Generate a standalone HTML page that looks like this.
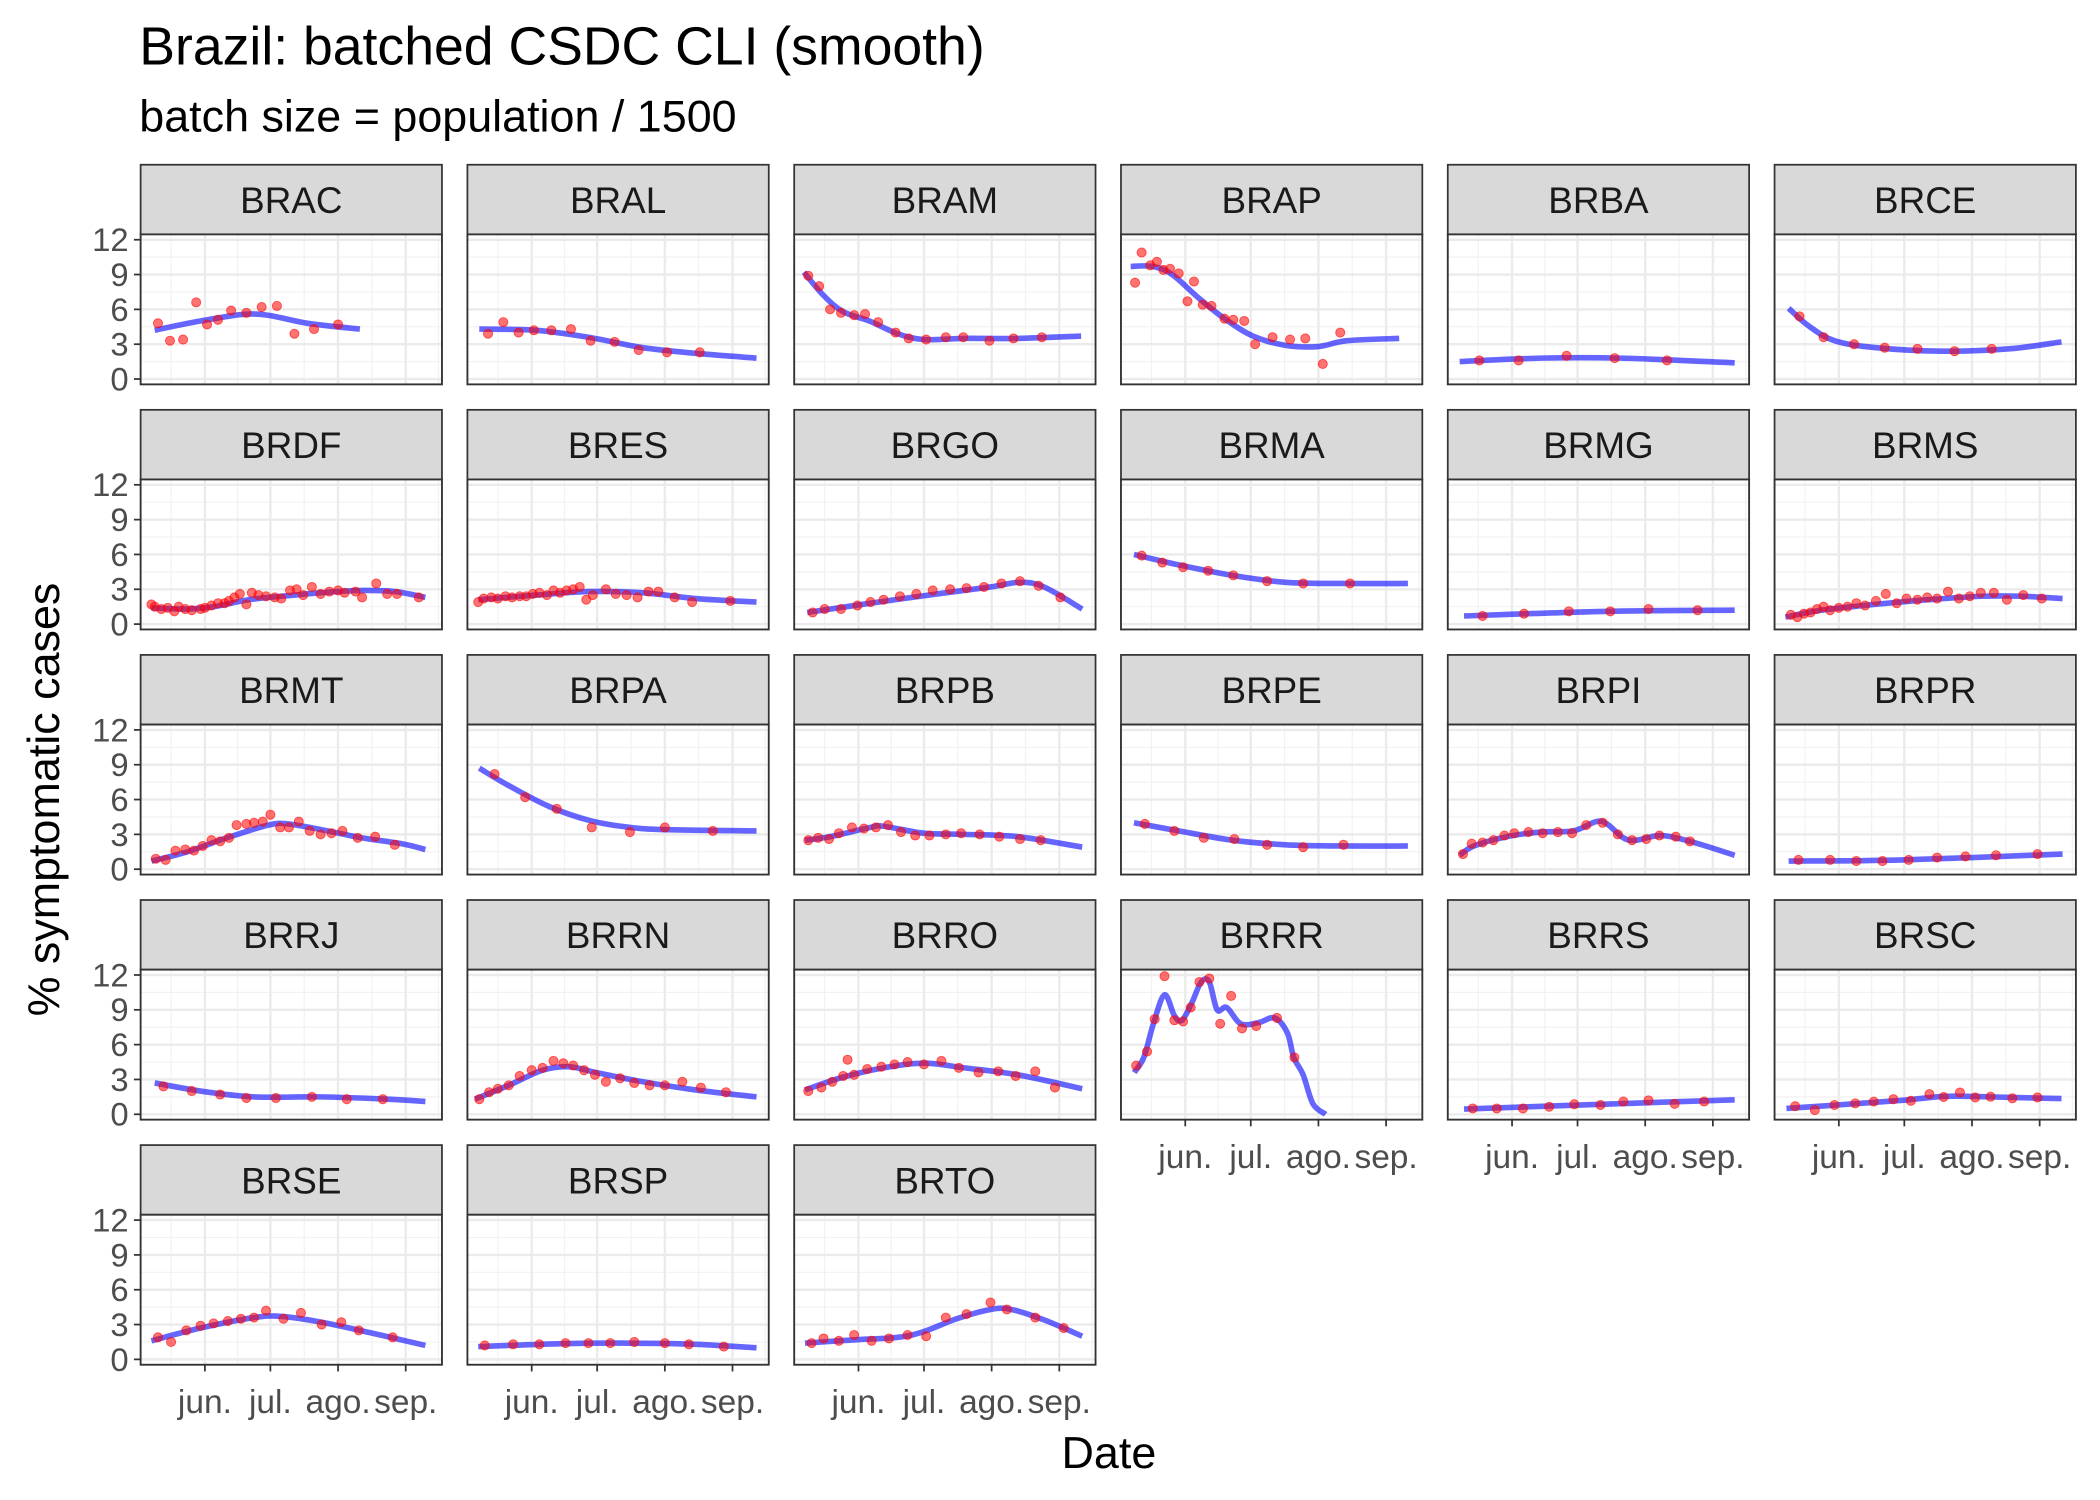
<!DOCTYPE html>
<html><head><meta charset="utf-8"><style>
html,body{margin:0;padding:0;background:#fff;}
svg{display:block;font-family:"Liberation Sans",sans-serif;}
</style></head><body>
<svg id="chart" width="2100" height="1500" viewBox="0 0 1568 1120" xmlns="http://www.w3.org/2000/svg">
<text x="104" y="48" font-size="40" fill="#000">Brazil: batched CSDC CLI (smooth)</text>
<text x="104" y="98" font-size="33.5" fill="#000">batch size = population / 1500</text>
<text transform="translate(44,597) rotate(-90)" text-anchor="middle" font-size="33.5" fill="#000">% symptomatic cases</text>
<text x="828" y="1096" text-anchor="middle" font-size="33.5" fill="#000">Date</text>
<g id="panels"></g>
</svg>
<script>
// Data: days since May 1 (jun=31, jul=61, ago=92, sep=123)
const states = ["BRAC","BRAL","BRAM","BRAP","BRBA","BRCE","BRDF","BRES","BRGO","BRMA","BRMG","BRMS","BRMT","BRPA","BRPB","BRPE","BRPI","BRPR","BRRJ","BRRN","BRRO","BRRR","BRRS","BRSC","BRSE","BRSP","BRTO"];
const monthTicks = [31,61,92,123];
const monthLabels = ["jun.","jul.","ago.","sep."];
const yTicks = [0,3,6,9,12];
const pointDays = {
BRAC:[9.5,15,21,27,32,37,43,50,57,64,72,81,92],
BRAL:[11,18,25,32,40,49,58,69,80,93,108],
BRAM:[8,13,18,23,29,34,40,48,54,62,71,79,91,102,115],
BRAP:[8,11,15,18,21,24,28,32,35,39,43,49,53,58,63,71,79,86,94,102],
BRBA:[16,34,56,78,102],
BRCE:[13,24,38,52,67,84,101],
BRDF:[6.5,8,11,14,17,19,22,25,29,31,34,37,40,42,44.5,47,50,52.5,55.5,59,63,66,70,73,76,80,84,88,92,95,100,103,109.5,114.5,119,129],
BRES:[6.5,9,12.5,15.5,19,22,25.5,28.5,31.5,34.5,38,41,44,47,50,53,56,59,65,69.5,74.5,79.5,84.5,89,96.5,104.5,122],
BRGO:[10,15.5,23,30.5,36.5,42.5,50,57.5,65,73,80.5,88.5,96.5,105,113.5,123.5],
BRMA:[11,20.5,30,41.5,53,68.5,85,106.5],
BRMG:[17.5,36.5,57,76,93.5,116],
BRMS:[9,12,15,18,21,24,27,31,35,39,43,48,52.5,57.5,62,67,71.5,76,81,86,91,96,102,108,115.5,124],
BRMT:[8.5,13,17.5,22,26,30,34,38,42,45.5,50,53.5,57.5,61,65.5,69.5,74,79,84,89,94,101,109,118],
BRPA:[14,28,42.5,58.5,76,92,114],
BRPB:[8,12.5,17.5,22,28,33.5,39,44.5,50.5,57,63.5,71,78,86.5,95.5,105,114.5],
BRPE:[12.5,26,39.5,53.5,68.5,85,103.5],
BRPI:[8.5,12.5,17.5,22.5,27.5,32,38.5,45,52,58.5,65,72.5,79.5,86,92.5,98.5,106,112.5],
BRPR:[12.5,27,39,51,63,76,89,103,122],
BRRJ:[12,25,38,50,63.5,80,96,112.5],
BRRN:[7,11.5,15.5,20.5,25.5,31,36,41,45.5,50,55,60,65,71.5,78,85,92,100,108.5,120],
BRRO:[8,14,19,24,26,29,35,41.5,47.5,53.5,61,69,77,86,95,103,112,121],
BRRR:[8.5,13.5,17,21.5,26,30,33.5,37.5,42,47,52,57,63.5,73,81],
BRRS:[13,24,36,48,59.5,71.5,82,93.5,105.5,119],
BRSC:[11,20,29,38.5,47,56,64,72.5,79,86.5,93.5,100.5,110.5,122],
BRSE:[9.5,15.5,22.5,29,35,41.5,47.5,53.5,59,67,75,84.5,93.5,101.5,117],
BRSP:[9.5,22.5,34.5,46.5,57,67,78,92,103,119],
BRTO:[9.5,15,22,29,37,45,53.5,62,71,80.5,91.5,99,112,125]
};
const pointVals = {
BRAC:[4.8,3.3,3.4,6.6,4.7,5.1,5.9,5.7,6.2,6.3,3.9,4.3,4.7],
BRAL:[3.9,4.9,4.0,4.2,4.2,4.3,3.3,3.2,2.5,2.3,2.3],
BRAM:[8.9,8.0,6.0,5.7,5.5,5.6,4.9,4.0,3.5,3.4,3.6,3.6,3.3,3.5,3.6],
BRAP:[8.3,10.9,9.8,10.1,9.4,9.5,9.1,6.7,8.4,6.4,6.3,5.2,5.1,5.0,3.0,3.6,3.4,3.5,1.3,4.0],
BRBA:[1.6,1.6,2.0,1.8,1.6],
BRCE:[5.4,3.6,3.0,2.7,2.6,2.4,2.6],
BRDF:[1.7,1.5,1.3,1.4,1.1,1.5,1.3,1.2,1.3,1.4,1.6,1.8,1.8,2.0,2.3,2.6,1.7,2.7,2.5,2.4,2.3,2.2,2.9,3.0,2.5,3.2,2.6,2.8,2.9,2.7,2.8,2.3,3.5,2.6,2.6,2.3],
BRES:[1.9,2.2,2.3,2.2,2.4,2.3,2.4,2.4,2.6,2.7,2.5,2.9,2.7,2.9,3.0,3.2,2.1,2.5,3.0,2.6,2.5,2.3,2.8,2.8,2.3,1.9,2.0],
BRGO:[1.0,1.3,1.3,1.6,1.9,2.1,2.4,2.6,2.9,3.0,3.1,3.2,3.5,3.7,3.3,2.3],
BRMA:[5.9,5.3,4.9,4.6,4.2,3.7,3.5,3.5],
BRMG:[0.7,0.9,1.1,1.1,1.3,1.2],
BRMS:[0.8,0.6,0.9,1.0,1.3,1.5,1.2,1.4,1.5,1.8,1.6,2.0,2.6,1.8,2.2,2.1,2.3,2.2,2.8,2.2,2.4,2.7,2.7,2.1,2.5,2.2],
BRMT:[0.9,0.8,1.6,1.7,1.6,2.0,2.5,2.4,2.7,3.8,3.9,4.0,4.1,4.7,3.6,3.6,4.1,3.3,3.0,3.1,3.3,2.7,2.8,2.1],
BRPA:[8.2,6.2,5.2,3.6,3.2,3.6,3.3],
BRPB:[2.5,2.7,2.6,3.1,3.6,3.5,3.6,3.8,3.2,2.9,2.9,3.0,3.1,3.0,2.8,2.6,2.5],
BRPE:[3.9,3.3,2.7,2.6,2.1,1.9,2.1],
BRPI:[1.3,2.2,2.3,2.5,2.9,3.1,3.2,3.1,3.2,3.1,3.8,4.0,3.0,2.5,2.6,2.9,2.8,2.4],
BRPR:[0.8,0.8,0.7,0.7,0.8,1.0,1.1,1.2,1.3],
BRRJ:[2.4,2.0,1.7,1.4,1.4,1.5,1.3,1.3],
BRRN:[1.3,1.9,2.2,2.5,3.3,3.8,4.0,4.6,4.4,4.2,3.8,3.4,2.8,3.1,2.7,2.5,2.5,2.8,2.3,1.9],
BRRO:[2.0,2.3,2.8,3.3,4.7,3.4,3.9,4.1,4.3,4.5,4.3,4.6,4.0,3.6,3.7,3.3,3.7,2.3],
BRRR:[4.2,5.4,8.2,11.9,8.1,8.0,9.2,11.4,11.7,7.8,10.2,7.4,7.6,8.3,4.9],
BRRS:[0.5,0.5,0.5,0.65,0.87,0.8,1.1,1.2,0.9,1.1],
BRSC:[0.7,0.36,0.8,0.94,1.09,1.3,1.16,1.74,1.49,1.88,1.45,1.52,1.38,1.45],
BRSE:[1.9,1.5,2.5,2.9,3.1,3.3,3.5,3.6,4.2,3.5,4.0,3.0,3.2,2.5,1.9],
BRSP:[1.2,1.3,1.3,1.4,1.4,1.4,1.5,1.4,1.3,1.1],
BRTO:[1.4,1.8,1.6,2.1,1.6,1.8,2.1,2.0,3.6,3.9,4.9,4.3,3.6,2.7]
};
const smoothDays = {
BRAC:[8,29,54,78,102],
BRAL:[7,33,57,82,107,134],
BRAM:[6,15,24,36,49,61,79,104,133],
BRAP:[6,16,25,37,49,62,77,92,105,129],
BRBA:[7,44,81,133],
BRCE:[8,17,29,48,78,109,133],
BRDF:[6.5,23,35,51,66,84,103,118,132],
BRES:[6.5,33,57,82,106,134],
BRGO:[7.5,36.5,67,91.5,105,116,133.5],
BRMA:[7.5,28,52.5,77,101.5,133],
BRMG:[9,75,133],
BRMS:[6.5,23,47.5,72,96.5,115,133.5],
BRMT:[6.5,23,41,60,69,84.5,103,121,132],
BRPA:[7,20.5,39,57.5,76,94,134],
BRPB:[6.5,18,36.5,42.5,61,79.5,104,133.5],
BRPE:[7.5,28,52.5,77,101.5,133],
BRPI:[7,13.5,28.5,44,59,69.5,74.5,82,88,99,112.5,133],
BRPR:[8,60,133.5],
BRRJ:[8,29,53.5,84,115,132],
BRRN:[5,20.5,36,48,60.5,82,106,134],
BRRO:[6.5,24,42.5,61,79.5,104,133.5],
BRRR:[7.6,12,16.4,21.5,26,29.5,34,38.3,42,45.6,50,56.4,64.6,72,77.8,80.7,85,89.5,95.3],
BRRS:[9,70,133],
BRSC:[7,30,60,80,100,133],
BRSE:[6.5,29,53.5,66,84.5,109,132],
BRSP:[6.5,45,76,106,134],
BRTO:[6.5,30.5,49,61,76,91.5,101,116,133.5]
};
const smoothVals = {
BRAC:[4.2,5.0,5.6,4.8,4.3],
BRAL:[4.3,4.2,3.6,2.7,2.2,1.8],
BRAM:[9.2,7.2,5.8,5.0,3.9,3.4,3.5,3.5,3.7],
BRAP:[9.7,9.7,9.0,7.0,5.2,3.7,2.9,2.8,3.3,3.5],
BRBA:[1.5,1.8,1.8,1.4],
BRCE:[6.1,4.6,3.3,2.7,2.4,2.6,3.2],
BRDF:[1.4,1.3,1.5,2.1,2.4,2.7,2.9,2.8,2.3],
BRES:[2.1,2.5,2.8,2.7,2.2,1.9],
BRGO:[1.0,1.8,2.6,3.2,3.6,3.2,1.3],
BRMA:[6.0,5.1,4.2,3.6,3.5,3.5],
BRMG:[0.7,1.1,1.2],
BRMS:[0.6,1.2,1.7,2.1,2.4,2.4,2.2],
BRMT:[0.7,1.5,2.7,3.8,3.9,3.4,2.7,2.2,1.7],
BRPA:[8.7,7.2,5.4,4.2,3.6,3.4,3.3],
BRPB:[2.5,2.8,3.6,3.7,3.1,3.0,2.8,1.9],
BRPE:[4.0,3.3,2.5,2.1,2.0,2.0],
BRPI:[1.2,2.0,2.8,3.2,3.3,4.1,3.9,2.7,2.5,2.9,2.4,1.2],
BRPR:[0.7,0.8,1.3],
BRRJ:[2.7,2.0,1.5,1.5,1.3,1.1],
BRRN:[1.3,2.5,3.8,4.1,3.6,2.8,2.1,1.5],
BRRO:[2.1,3.2,4.0,4.4,4.0,3.4,2.2],
BRRR:[3.6,4.9,7.8,10.3,8.5,8.1,9.6,11.4,11.4,9.0,9.2,7.8,7.9,8.3,7.0,4.9,3.4,0.9,0.0],
BRRS:[0.45,0.85,1.25],
BRSC:[0.5,0.8,1.2,1.55,1.5,1.35],
BRSE:[1.6,2.7,3.6,3.7,3.2,2.2,1.2],
BRSP:[1.1,1.35,1.4,1.3,1.0],
BRTO:[1.4,1.7,1.9,2.4,3.5,4.3,4.3,3.4,2.0]
};

const NS = "http://www.w3.org/2000/svg";
const root = document.getElementById('panels');
const PW = 225, STRIP = 52, PH = 112, COL0 = 105, COLSTEP = 244, ROW0 = 123, ROWSTEP = 183;
const XMIN = 1.55, XMAX = 139.6;
function mk(tag, attrs, parent){ const e=document.createElementNS(NS,tag); for(const k in attrs) e.setAttribute(k,attrs[k]); parent.appendChild(e); return e; }
function catmull(pts){
  if(pts.length<2) return "";
  let d = "M"+pts[0][0]+","+pts[0][1];
  for(let i=0;i<pts.length-1;i++){
    const p0=pts[i-1]||pts[i], p1=pts[i], p2=pts[i+1], p3=pts[i+2]||p2;
    const c1x=p1[0]+(p2[0]-p0[0])/6, c1y=p1[1]+(p2[1]-p0[1])/6;
    const c2x=p2[0]-(p3[0]-p1[0])/6, c2y=p2[1]-(p3[1]-p1[1])/6;
    d += " C"+c1x+","+c1y+" "+c2x+","+c2y+" "+p2[0]+","+p2[1];
  }
  return d;
}
states.forEach((st, i) => {
  const col = i % 6, row = Math.floor(i / 6);
  const L = COL0 + col*COLSTEP, T = ROW0 + row*ROWSTEP, PT = T + STRIP;
  const xs = d => L + (d - XMIN) / (XMAX - XMIN) * PW;
  const ys = v => PT + 4 + (12 - v) * (104/12);
  const g = mk('g', {}, root);
  
  
  const strip = mk('rect', {x:L, y:T, width:PW, height:STRIP, fill:'#d9d9d9', stroke:'#333', 'stroke-width':1.3}, g);
  
  
  const stxt = mk('text', {x:L+PW/2, y:T+36, 'text-anchor':'middle', 'font-size':27.5, fill:'#1a1a1a'}, g);
  stxt.textContent = st;
  
  
  mk('rect', {x:L, y:PT, width:PW, height:PH, fill:'#fff'}, g);
  const minorY=[1.5,4.5,7.5,10.5], minorX=[15.5,46,76.5,107.5,138];
  minorY.forEach(v=>mk('line',{x1:L,x2:L+PW,y1:ys(v),y2:ys(v),stroke:'#f2f2f2','stroke-width':0.9},g));
  minorX.forEach(d=>mk('line',{x1:xs(d),x2:xs(d),y1:PT,y2:PT+PH,stroke:'#f2f2f2','stroke-width':0.9},g));
  yTicks.forEach(v=>mk('line',{x1:L,x2:L+PW,y1:ys(v),y2:ys(v),stroke:'#ebebeb','stroke-width':1.8},g));
  monthTicks.forEach(d=>mk('line',{x1:xs(d),x2:xs(d),y1:PT,y2:PT+PH,stroke:'#ebebeb','stroke-width':1.8},g));
  const sd = smoothDays[st], sv = smoothVals[st];
  const line = mk('path', {d:catmull(sd.map((d,k)=>[xs(d),ys(sv[k])])), fill:'none', stroke:'#0000ff', 'stroke-opacity':0.6, 'stroke-width':4.2, 'stroke-linecap':'butt', 'stroke-linejoin':'round'}, g);
  
  
  const pd = pointDays[st], pv = pointVals[st];
  pd.forEach((d,k)=>{
    const c = mk('circle', {cx:xs(d), cy:ys(pv[k]), r:3.4, fill:'#ff0000', 'fill-opacity':0.55, stroke:'#ff0000', 'stroke-opacity':0.6, 'stroke-width':0.7}, g);
    
    
  });
  mk('rect', {x:L, y:PT, width:PW, height:PH, fill:'none', stroke:'#333', 'stroke-width':1.4}, g);
  if (col === 0) {
    yTicks.forEach(v=>{
      mk('line',{x1:L-5,x2:L,y1:ys(v),y2:ys(v),stroke:'#333','stroke-width':1.3},g);
      const t = mk('text',{x:L-9,y:ys(v)+8.5,'text-anchor':'end','font-size':24.5,fill:'#4d4d4d'},g);
      t.textContent = v;
      
      
    });
  }
  const bottom = (col < 3 && row === 4) || (col >= 3 && row === 3);
  if (bottom) {
    monthTicks.forEach((d,k)=>{
      mk('line',{x1:xs(d),x2:xs(d),y1:PT+PH,y2:PT+PH+5,stroke:'#333','stroke-width':1.3},g);
      const t = mk('text',{x:xs(d),y:PT+PH+36,'text-anchor':'middle','font-size':25,fill:'#4d4d4d'},g);
      t.textContent = monthLabels[k];
      
      
    });
  }
});
</script>
</body></html>
